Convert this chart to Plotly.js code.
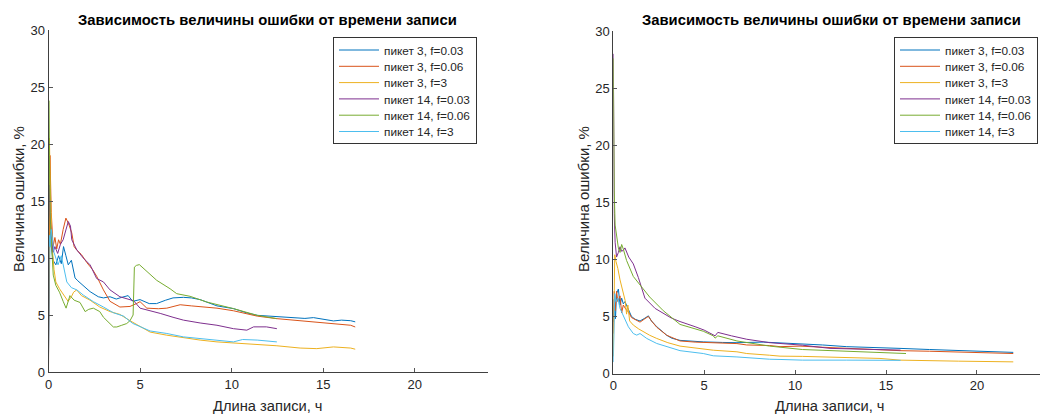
<!DOCTYPE html>
<html>
<head>
<meta charset="utf-8">
<script src="https://cdn.plot.ly/plotly-3.0.1.min.js"></script>
<style>
  html, body { margin: 0; padding: 0; background: #fff; overflow: hidden; }
  #chart { width: 1040px; height: 416px; }
</style>
</head>
<body>
<div id="chart"></div>
<script>
// Series names (shared by both panels)
const seriesNames = ['пикет 3, f=0.03', 'пикет 3, f=0.06', 'пикет 3, f=3',
                     'пикет 14, f=0.03', 'пикет 14, f=0.06', 'пикет 14, f=3'];

// ---- Left panel: error (%) vs record length (h) ----
const L_p3_003_x = [0, 0.03, 0.08, 0.15, 0.25, 0.4, 0.55, 0.7, 0.82, 0.95, 1.08, 1.25, 1.45, 1.6, 1.9, 2.27, 2.72, 3.0, 3.36, 3.7, 4.0, 4.35, 4.6, 5.0, 5.5, 5.9, 6.4, 6.8, 7.37, 7.8, 8.28, 8.8, 9.2, 10.1, 10.8, 11.4, 12.0, 12.47, 13.0, 13.5, 14.0, 14.47, 15.0, 15.56, 16.0, 16.5, 16.75];
const L_p3_003_y = [1.5, 8, 12.3, 11, 9.8, 9.4, 10.2, 9.5, 11.0, 10.2, 9.4, 9.8, 8.25, 8.0, 7.6, 7.05, 6.6, 6.5, 6.6, 6.4, 6.55, 6.7, 6.2, 6.35, 6.0, 6.0, 6.3, 6.5, 6.55, 6.5, 6.35, 6.0, 5.8, 5.56, 5.2, 4.97, 4.9, 4.83, 4.8, 4.75, 4.7, 4.77, 4.6, 4.48, 4.55, 4.5, 4.4];

const L_p3_006_x = [0, 0.03, 0.08, 0.15, 0.25, 0.35, 0.45, 0.55, 0.65, 0.8, 0.95, 1.1, 1.27, 1.4, 1.54, 1.8, 2.09, 2.4, 2.63, 3.0, 3.36, 3.9, 4.45, 4.8, 5.0, 5.37, 6.0, 6.46, 7.19, 7.8, 8.28, 9.2, 10.1, 10.8, 11.4, 12.47, 13.74, 14.6, 15.56, 16.5, 16.75];
const L_p3_006_y = [0.5, 12, 19, 14, 11, 11.8, 10.8, 11.6, 11.2, 12.5, 13.5, 13.0, 12.2, 11.0, 10.7, 10.3, 9.6, 9.0, 8.4, 7.2, 6.2, 5.7, 5.75, 6.0, 6.17, 5.6, 5.55, 5.6, 5.9, 5.8, 5.75, 5.6, 5.37, 5.1, 4.9, 4.68, 4.5, 4.4, 4.26, 4.1, 3.95];

const L_p3_3_x = [0, 0.02, 0.05, 0.1, 0.2, 0.3, 0.4, 0.6, 0.85, 1.07, 1.25, 1.37, 1.54, 1.8, 2.27, 2.8, 3.36, 3.9, 4.45, 5.0, 5.55, 6.46, 7.37, 8.28, 9.2, 10.1, 11.0, 12.47, 13.74, 14.65, 15.56, 16.5, 16.75];
const L_p3_3_y = [4, 15, 20.5, 16, 11, 9, 7.9, 7.3, 6.7, 6.2, 6.6, 7.0, 7.2, 6.7, 6.3, 5.7, 5.3, 5.05, 4.5, 4.0, 3.5, 3.23, 3.0, 2.8, 2.64, 2.55, 2.5, 2.3, 2.1, 2.05, 2.2, 2.1, 2.0];

const L_p14_003_x = [0, 0.03, 0.08, 0.15, 0.25, 0.35, 0.5, 0.65, 0.8, 0.95, 1.08, 1.2, 1.27, 1.55, 1.9, 2.27, 2.63, 3.0, 3.36, 3.9, 4.2, 4.65, 5.0, 5.5, 6.1, 6.8, 7.37, 8.28, 9.2, 10.1, 10.83, 11.2, 11.9, 12.47];
const L_p14_003_y = [12, 16.4, 14, 12, 10.5, 11.0, 10.4, 11.2, 11.6, 12.5, 13.2, 12.8, 11.6, 10.7, 10.0, 9.4, 8.2, 7.9, 7.2, 6.6, 6.45, 6.25, 5.6, 5.4, 5.14, 4.8, 4.55, 4.3, 4.1, 3.8, 3.67, 3.96, 3.96, 3.8];

const L_p14_006_x = [0, 0.02, 0.05, 0.1, 0.18, 0.26, 0.4, 0.6, 0.8, 0.96, 1.17, 1.4, 1.72, 2.0, 2.2, 2.45, 2.8, 3.0, 3.54, 3.73, 4.0, 4.27, 4.45, 4.62, 4.69, 4.8, 4.96, 5.3, 5.91, 6.64, 7.0, 7.73, 8.64, 10.1, 11.4, 12.47];
const L_p14_006_y = [9, 23.8, 19, 13, 10, 8.5, 7.6, 7.0, 6.2, 5.6, 6.7, 6.3, 6.1, 5.3, 5.5, 5.6, 5.3, 4.8, 3.95, 3.95, 4.1, 4.25, 4.5, 5.0, 9.2, 9.35, 9.42, 8.9, 8.04, 7.3, 6.87, 6.64, 6.14, 5.56, 4.97, 4.68];

const L_p14_3_x = [0, 0.03, 0.08, 0.15, 0.3, 0.52, 0.7, 0.85, 1.0, 1.25, 1.55, 1.9, 2.45, 3.0, 3.54, 4.1, 4.6, 5.55, 6.46, 7.37, 8.28, 9.2, 10.1, 10.6, 11.4, 12.47];
const L_p14_3_y = [0.5, 12, 11, 12.5, 10.5, 9.4, 10.2, 9.0, 7.9, 7.4, 7.2, 6.75, 6.17, 5.7, 5.2, 4.9, 4.26, 3.6, 3.38, 3.08, 2.94, 2.8, 2.64, 2.85, 2.8, 2.64];

// ---- Right panel ----
const R_p3_003_x = [0, 0.05, 0.12, 0.18, 0.28, 0.37, 0.46, 0.55, 0.64, 0.83, 1.0, 1.2, 1.47, 1.74, 1.93, 2.1, 2.39, 2.94, 3.2, 3.67, 4.5, 4.95, 6.0, 6.8, 8.25, 9.17, 10.27, 11.5, 12.84, 14.67, 15.77, 17.4, 19, 20.5, 22];
const R_p3_003_y = [4.5, 6.5, 4.8, 7.0, 7.4, 6.0, 6.6, 6.1, 6.3, 5.6, 5.0, 4.75, 4.6, 4.85, 5.05, 4.6, 4.1, 3.35, 3.1, 2.9, 2.8, 2.77, 2.72, 2.7, 2.75, 2.68, 2.65, 2.5, 2.35, 2.28, 2.2, 2.1, 2.0, 1.9, 1.85];

const R_p3_006_x = [0, 0.05, 0.1, 0.18, 0.25, 0.37, 0.46, 0.55, 0.7, 0.83, 1.0, 1.2, 1.47, 1.74, 1.93, 2.1, 2.39, 2.94, 3.67, 4.5, 5.5, 6.8, 7.34, 8.6, 9.17, 10.27, 11.5, 12.84, 14.67, 15.77, 17.4, 19.5, 22];
const R_p3_006_y = [3.5, 7.2, 5.5, 7.2, 6.3, 6.8, 5.3, 6.0, 5.6, 5.4, 4.9, 4.7, 4.5, 4.8, 5.0, 4.6, 4.05, 3.35, 2.85, 2.75, 2.7, 2.62, 2.5, 2.45, 2.35, 2.4, 2.3, 2.2, 2.05, 2.0, 1.95, 1.85, 1.75];

const R_p3_3_x = [0, 0.03, 0.08, 0.15, 0.25, 0.37, 0.55, 0.65, 0.73, 0.8, 0.9, 1.1, 1.4, 1.65, 2.0, 2.39, 3.0, 3.67, 4.95, 5.5, 6.8, 7.34, 8.6, 9.17, 10.4, 12.84, 14.67, 15.77, 17.4, 19, 20.5, 22];
const R_p3_3_y = [1.5, 6, 10.4, 9.8, 9.2, 8.2, 7.0, 6.4, 5.2, 6.0, 4.6, 4.24, 3.9, 3.65, 3.35, 3.07, 2.7, 2.4, 2.19, 2.04, 1.9, 1.75, 1.6, 1.52, 1.5, 1.4, 1.32, 1.17, 1.1, 1.08, 1.05, 1.02];

const R_p14_003_x = [0, 0.02, 0.05, 0.1, 0.18, 0.28, 0.37, 0.46, 0.55, 0.64, 0.73, 0.85, 1.1, 1.38, 1.74, 2.3, 3.2, 3.67, 4.5, 5.0, 5.6, 5.75, 6.5, 7.34, 8.6, 9.17, 10.4, 11.92, 13.0, 14.67, 15.8];
const R_p14_003_y = [28, 18, 14, 11.5, 10.2, 10.6, 11.1, 10.7, 10.8, 11.0, 10.6, 10.2, 9.6, 8.4, 6.6, 5.7, 4.85, 4.55, 4.1, 3.8, 3.3, 3.6, 3.3, 3.0, 2.7, 2.63, 2.48, 2.2, 2.15, 2.1, 2.05];

const R_p14_006_x = [0, 0.02, 0.05, 0.1, 0.18, 0.28, 0.37, 0.46, 0.55, 0.73, 1.1, 1.47, 2.0, 2.75, 3.67, 4.95, 5.5, 5.6, 5.75, 6.8, 8.6, 10.4, 11.9, 13.5, 14.67, 16.1];
const R_p14_006_y = [27.6, 22, 16, 13, 12.1, 11.0, 10.6, 11.3, 10.9, 9.9, 8.5, 7.75, 6.7, 5.5, 4.3, 3.7, 3.3, 3.1, 3.3, 2.85, 2.4, 2.1, 2.0, 1.9, 1.8, 1.75];

const R_p14_3_x = [0, 0.03, 0.08, 0.15, 0.25, 0.37, 0.55, 0.83, 1.1, 1.29, 1.47, 1.84, 2.39, 3.0, 3.67, 4.95, 5.5, 6.8, 7.34, 8.6, 9.17, 10.4, 12.84, 14.67, 15.8];
const R_p14_3_y = [1.0, 5.5, 7.0, 6.3, 6.6, 5.7, 5.1, 4.09, 3.5, 3.36, 3.5, 3.07, 2.63, 2.3, 2.0, 1.75, 1.55, 1.45, 1.37, 1.25, 1.23, 1.17, 1.17, 1.17, 1.15];

// Axis ticks and labels
const xTicks = [0, 5, 10, 15, 20];
const yTicks = [0, 5, 10, 15, 20, 25, 30];
const panelTitle = 'Зависимость величины ошибки от времени записи';
const xLabel = 'Длина записи, ч';
const yLabel = 'Величина ошибки, %';

// Line colours in series order
const colors = ['#0072BD', '#D95319', '#EDB120', '#7E2F8E', '#77AC30', '#4DBEEE'];

const W = 1040, H = 416;
const px = v => v / W;          // horizontal pixel -> paper
const py = v => 1 - v / H;      // vertical pixel -> paper

const leftData = [[L_p3_003_x, L_p3_003_y], [L_p3_006_x, L_p3_006_y], [L_p3_3_x, L_p3_3_y],
                  [L_p14_003_x, L_p14_003_y], [L_p14_006_x, L_p14_006_y], [L_p14_3_x, L_p14_3_y]];
const rightData = [[R_p3_003_x, R_p3_003_y], [R_p3_006_x, R_p3_006_y], [R_p3_3_x, R_p3_3_y],
                   [R_p14_003_x, R_p14_003_y], [R_p14_006_x, R_p14_006_y], [R_p14_3_x, R_p14_3_y]];

const traces = [];
leftData.forEach((d, i) => traces.push({
  x: d[0], y: d[1], type: 'scatter', mode: 'lines', name: seriesNames[i],
  line: {color: colors[i], width: 1}, xaxis: 'x', yaxis: 'y', legend: 'legend'
}));
rightData.forEach((d, i) => traces.push({
  x: d[0], y: d[1], type: 'scatter', mode: 'lines', name: seriesNames[i],
  line: {color: colors[i], width: 1}, xaxis: 'x2', yaxis: 'y2', legend: 'legend2'
}));

const FONT = '"Liberation Sans", Arial, sans-serif';
const axisCommon = {
  showline: true, linecolor: '#404040', linewidth: 1, mirror: false,
  showgrid: false, zeroline: false,
  ticks: 'inside', ticklen: 4, tickcolor: '#555', tickwidth: 1,
  tickfont: {family: FONT, size: 13, color: '#262626'},
  fixedrange: true
};

const legendCommon = {
  yanchor: 'top', bgcolor: '#fff',
  bordercolor: '#333', borderwidth: 1,
  font: {family: FONT, size: 11.8, color: '#262626'},
  itemwidth: 40, tracegroupgap: 0
};

const annFont = (size, color) => ({family: FONT, size: size, color: color});

const layout = {
  width: W, height: H,
  margin: {l: 0, r: 0, t: 0, b: 0},
  paper_bgcolor: '#fff', plot_bgcolor: '#fff',
  font: {family: FONT, color: '#262626'},
  showlegend: true,
  xaxis: Object.assign({}, axisCommon, {domain: [px(48.5), px(488)], range: [0, 24], tickvals: xTicks, anchor: 'y'}),
  yaxis: Object.assign({}, axisCommon, {domain: [py(372), py(30)], range: [0, 30], tickvals: yTicks, anchor: 'x'}),
  xaxis2: Object.assign({}, axisCommon, {domain: [px(613.3), 1], range: [0, 23.47], tickvals: xTicks, anchor: 'y2'}),
  yaxis2: Object.assign({}, axisCommon, {domain: [py(373.5), py(31)], range: [0, 30], tickvals: yTicks, anchor: 'x2'}),
  legend: Object.assign({}, legendCommon, {x: px(333), xanchor: 'left', y: py(37)}),
  legend2: Object.assign({}, legendCommon, {x: px(1038), xanchor: 'right', y: py(37)}),
  annotations: [
    {text: '<b>' + panelTitle + '</b>', x: px(267), y: py(20), xref: 'paper', yref: 'paper',
     xanchor: 'center', yanchor: 'middle', showarrow: false, font: annFont(14.8, '#000')},
    {text: '<b>' + panelTitle + '</b>', x: px(831), y: py(20), xref: 'paper', yref: 'paper',
     xanchor: 'center', yanchor: 'middle', showarrow: false, font: annFont(14.8, '#000')},
    {text: xLabel, x: px(268), y: py(406), xref: 'paper', yref: 'paper',
     xanchor: 'center', yanchor: 'middle', showarrow: false, font: annFont(14.7, '#262626')},
    {text: xLabel, x: px(830), y: py(406), xref: 'paper', yref: 'paper',
     xanchor: 'center', yanchor: 'middle', showarrow: false, font: annFont(14.7, '#262626')},
    {text: yLabel, x: px(18), y: py(199), xref: 'paper', yref: 'paper', textangle: -90,
     xanchor: 'center', yanchor: 'middle', showarrow: false, font: annFont(15, '#262626')},
    {text: yLabel, x: px(583), y: py(199), xref: 'paper', yref: 'paper', textangle: -90,
     xanchor: 'center', yanchor: 'middle', showarrow: false, font: annFont(15, '#262626')}
  ]
};

// Tighten legend row spacing to a compact 16 px step
function compactLegends(gd) {
  const STEP = 16.3;
  ['legend', 'legend2'].forEach(id => {
    const g = gd.querySelector('g.' + id);
    if (!g) return;
    const items = Array.from(g.querySelectorAll('g.traces'));
    if (items.length < 2) return;
    const pos = items.map(it => {
      const m = /translate\(\s*([-\d.e]+)[ ,]+([-\d.e]+)\s*\)/.exec(it.getAttribute('transform') || '');
      return m ? [parseFloat(m[1]), parseFloat(m[2])] : [0, 0];
    });
    const oldStep = pos[1][1] - pos[0][1];
    const shiftTop = 2.5;
    items.forEach((it, i) => {
      it.setAttribute('transform', 'translate(' + pos[i][0] + ',' + (pos[0][1] - shiftTop + i * STEP) + ')');
    });
    const shrink = items.length * (oldStep - STEP) + shiftTop;
    g.querySelectorAll('rect.bg').forEach(r => {
      const h = parseFloat(r.getAttribute('height'));
      if (!isNaN(h)) r.setAttribute('height', h - shrink);
    });
  });
}

Plotly.newPlot('chart', traces, layout, {displayModeBar: false, staticPlot: true})
  .then(compactLegends);
</script>
</body>
</html>
